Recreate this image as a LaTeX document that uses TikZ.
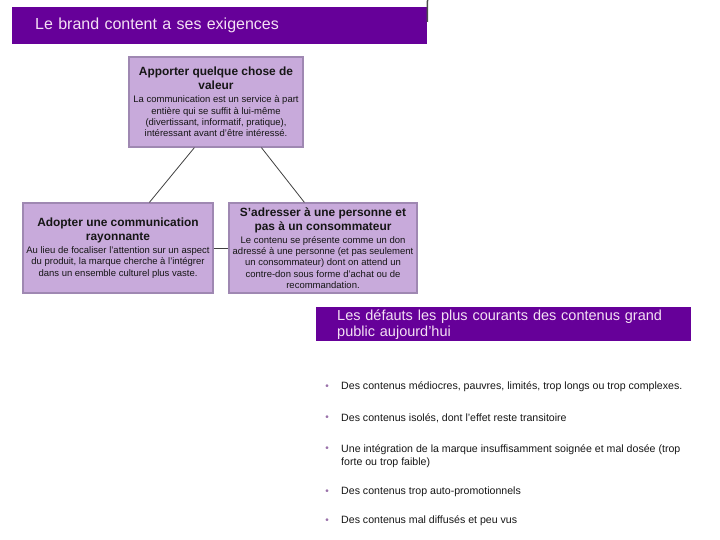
\documentclass[tikz,border=0pt]{standalone}
\usepackage{fontspec}
\setmainfont{Liberation Sans}
\definecolor{barpurple}{HTML}{660099}
\definecolor{bartext}{HTML}{F4E0F4}
\definecolor{boxfill}{HTML}{C8AADB}
\definecolor{boxborder}{HTML}{9F88B2}
\definecolor{bulletc}{HTML}{9A72AA}
\definecolor{txt}{HTML}{161616}
\newcommand{\bt}[1]{{\fontsize{11.9}{14}\selectfont\bfseries #1}}
\newcommand{\bb}{\fontsize{9.5}{11.2}\selectfont}
\tikzset{
  bar/.style={fill=barpurple, text=bartext, align=left, inner ysep=0pt, anchor=north west},
  box/.style={fill=boxfill, draw=boxborder, line width=1.2pt, align=center, inner sep=0pt, text=txt, font=\bb},
  conn/.style={draw=black!75, line width=0.8pt},
  item/.style={anchor=west, align=left, text=txt, inner sep=0pt, font=\fontsize{10.6}{13}\selectfont},
  bul/.style={text=bulletc, inner sep=0pt, font=\fontsize{10}{10}\selectfont}
}
\begin{document}
\begin{tikzpicture}[x=1pt,y=-1pt]
\useasboundingbox (0,0) rectangle (720,540);
% top bar
\node[bar, minimum width=415pt, minimum height=37pt, text width=369pt, inner xsep=23pt,
  font=\fontsize{16}{18}\selectfont] (title) at (12,7) {Le brand content a ses exigences};
\coordinate (tick) at (427.5,0);
\draw[draw=black!70, line width=1.5pt] (tick) -- ([yshift=-15pt]title.north east);
% boxes
\node[box, minimum width=174pt, minimum height=90pt] (top) at (216,102)
  {\bt{Apporter quelque chose de}\\[2.8pt]\bt{valeur}\\[1.8pt]
   La communication est un service à part\\entière qui se suffit à lui-même\\
   (divertissant, informatif, pratique),\\intéressant avant d'être intéressé.};
\node[box, minimum width=190pt, minimum height=90pt] (left) at (118,248)
  {\bt{Adopter une communication}\\[2.8pt]\bt{rayonnante}\\[1.8pt]
   Au lieu de focaliser l'attention sur un aspect\\du produit, la marque cherche à l'intégrer\\
   dans un ensemble culturel plus vaste.};
\node[box, minimum width=188pt, minimum height=90pt] (right) at (323,248)
  {\bt{S'adresser à une personne et}\\[2.8pt]\bt{pas à un consommateur}\\[1.8pt]
   Le contenu se présente comme un don\\adressé à une personne (et pas seulement\\
   un consommateur) dont on attend un\\contre-don sous forme d'achat ou de\\
   recommandation.};
% connectors
\draw[conn] ([xshift=66pt]top.south west) -- ([xshift=127pt]left.north west);
\draw[conn] ([xshift=133pt]top.south west) -- ([xshift=76pt]right.north west);
\draw[conn] (left.east) -- (right.west);
% second bar
\node[bar, minimum width=375pt, minimum height=34pt, text width=333pt, inner xsep=21pt,
  font=\fontsize{14.5}{16}\selectfont] (defauts) at (316,307)
  {Les défauts les plus courants des contenus grand\\public aujourd'hui};
% bullets
\node[item] (i1) at (341,387) {Des contenus médiocres, pauvres, limités, trop longs ou trop complexes.};
\node[item] (i2) at (341,418) {Des contenus isolés, dont l'effet reste transitoire};
\node[item] (i3) at (341,456) {Une intégration de la marque insuffisamment soignée et mal dosée (trop\\forte ou trop faible)};
\node[item] (i4) at (341,492) {Des contenus trop auto-promotionnels};
\node[item] (i5) at (341,521) {Des contenus mal diffusés et peu vus};
\node[bul] (b1) at (327,387) {•};
\node[bul] (b2) at (327,418) {•};
\node[bul] (b3) at (327,449.5) {•};
\node[bul] (b4) at (327,492) {•};
\node[bul] (b5) at (327,521) {•};
\end{tikzpicture}
\end{document}
